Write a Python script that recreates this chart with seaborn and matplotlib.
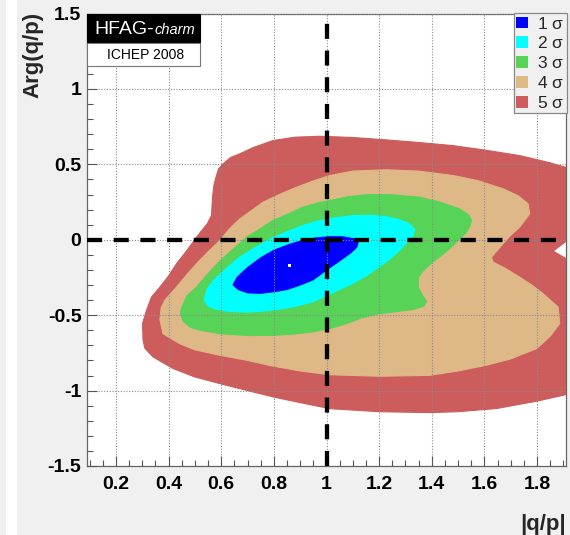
import numpy as np
import pandas as pd
import matplotlib
matplotlib.use("Agg")
import matplotlib.pyplot as plt
from matplotlib.patches import Patch, Rectangle
import seaborn as sns

# ---------------- data ----------------
sigma_labels = ["1", "2", "3", "4", "5"]
sigma_colors = ["#0000ff", "#00ffff", "#57d357", "#deb887", "#cd5c5c"]

s1_x = [0.645, 0.66, 0.70, 0.75, 0.80, 0.86, 0.91, 0.96, 1.01, 1.06, 1.10, 1.12,
        1.115, 1.09, 1.05, 1.00, 0.95, 0.90, 0.85, 0.80, 0.75, 0.70, 0.665]
s1_y = [-0.30, -0.25, -0.185, -0.12, -0.07, -0.03, -0.005, 0.012, 0.02, 0.02, 0.008, -0.02,
        -0.05, -0.09, -0.14, -0.20, -0.265, -0.30, -0.33, -0.345, -0.355, -0.352, -0.33]

s2_x = [0.535, 0.545, 0.57, 0.62, 0.67, 0.73, 0.80, 0.86, 0.91, 0.97, 1.03, 1.10, 1.164,
        1.22, 1.27, 1.31, 1.335, 1.33, 1.29, 1.24, 1.20, 1.15, 1.10, 1.05, 1.00, 0.95,
        0.886, 0.823, 0.75, 0.696, 0.63, 0.58, 0.55]
s2_y = [-0.40, -0.33, -0.27, -0.19, -0.115, -0.05, 0.017, 0.06, 0.095, 0.125, 0.145, 0.16, 0.162,
        0.155, 0.137, 0.11, 0.07, 0.03, -0.05, -0.13, -0.18, -0.24, -0.29, -0.33, -0.37, -0.41,
        -0.44, -0.46, -0.475, -0.48, -0.475, -0.46, -0.44]

s3_x = [0.45, 0.47, 0.506, 0.55, 0.595, 0.64, 0.696, 0.75, 0.797, 0.86, 0.911, 0.97, 1.013,
        1.08, 1.164, 1.25, 1.354, 1.43, 1.506, 1.54, 1.551, 1.545, 1.532, 1.481, 1.44, 1.395,
        1.365, 1.35, 1.348, 1.365, 1.38, 1.37, 1.33, 1.26, 1.20, 1.13, 1.076, 1.013, 0.95,
        0.88, 0.797, 0.70, 0.595, 0.52, 0.481, 0.455, 0.445]
s3_y = [-0.45, -0.37, -0.314, -0.225, -0.14, -0.07, 0.017, 0.075, 0.128, 0.175, 0.216, 0.245, 0.26,
        0.285, 0.30, 0.298, 0.282, 0.25, 0.205, 0.165, 0.128, 0.09, 0.05, -0.038, -0.10, -0.16,
        -0.21, -0.248, -0.314, -0.37, -0.41, -0.44, -0.462, -0.478, -0.49, -0.52, -0.556, -0.589, -0.61,
        -0.625, -0.634, -0.635, -0.623, -0.60, -0.579, -0.54, -0.49]

s4_x = [0.367, 0.372, 0.386, 0.43, 0.47, 0.506, 0.55, 0.595, 0.63, 0.671, 0.72, 0.759, 0.82,
        0.886, 0.95, 1.013, 1.10, 1.228, 1.35, 1.481, 1.58, 1.671, 1.73, 1.766, 1.772, 1.734,
        1.70, 1.671, 1.627, 1.633, 1.68, 1.734, 1.78, 1.823, 1.88, 1.886, 1.85, 1.798, 1.70,
        1.608, 1.50, 1.392, 1.20, 1.013, 0.90, 0.797, 0.70, 0.595, 0.50, 0.443, 0.379]
s4_y = [-0.53, -0.45, -0.40, -0.314, -0.23, -0.159, -0.08, -0.005, 0.07, 0.139, 0.20, 0.249, 0.30,
        0.348, 0.39, 0.426, 0.455, 0.464, 0.455, 0.426, 0.39, 0.338, 0.29, 0.238, 0.172, 0.083,
        0.03, -0.026, -0.115, -0.148, -0.19, -0.248, -0.30, -0.358, -0.446, -0.556, -0.64, -0.722, -0.79,
        -0.832, -0.87, -0.899, -0.905, -0.895, -0.87, -0.838, -0.80, -0.766, -0.73, -0.69, -0.623]

s5_x = [0.567, 0.572, 0.58, 0.59, 0.607, 0.635, 0.671, 0.72, 0.797, 0.88, 0.975, 1.10, 1.228,
        1.35, 1.481, 1.60, 1.734, 1.85, 1.95, 1.95, 1.915, 1.861, 1.915, 1.95, 1.95, 1.899,
        1.80, 1.646, 1.50, 1.392, 1.20, 1.013, 0.90, 0.797, 0.70, 0.595, 0.50, 0.417, 0.341,
        0.31, 0.303, 0.301, 0.316, 0.335, 0.367, 0.40, 0.43, 0.47, 0.506, 0.53, 0.547, 0.563]
s5_y = [0.28, 0.36, 0.415, 0.47, 0.503, 0.545, 0.57, 0.61, 0.658, 0.68, 0.686, 0.678, 0.662,
        0.645, 0.624, 0.595, 0.558, 0.51, 0.46, -0.005, -0.005, -0.075, -0.13, -0.13, -1.01, -1.031,
        -1.07, -1.119, -1.14, -1.146, -1.14, -1.12, -1.08, -1.042, -1.0, -0.954, -0.91, -0.854, -0.777,
        -0.72, -0.667, -0.556, -0.468, -0.38, -0.314, -0.24, -0.159, -0.07, 0.017, 0.07, 0.106, 0.161]

best_x = [0.858]
best_y = [-0.170]

x_ticks = [0.2, 0.4, 0.6, 0.8, 1.0, 1.2, 1.4, 1.6, 1.8]
x_tick_labels = ["0.2", "0.4", "0.6", "0.8", "1", "1.2", "1.4", "1.6", "1.8"]
y_ticks = [-1.5, -1.0, -0.5, 0.0, 0.5, 1.0, 1.5]
y_tick_labels = ["-1.5", "-1", "-0.5", "0", "0.5", "1", "1.5"]

contours = [(s5_x, s5_y), (s4_x, s4_y), (s3_x, s3_y), (s2_x, s2_y), (s1_x, s1_y)]
contour_colors = sigma_colors[::-1]

# ---------------- style ----------------
sns.set_theme(style="white")
plt.rcParams["font.family"] = ["Liberation Sans", "DejaVu Sans"]
plt.rcParams["mathtext.fontset"] = "custom"
plt.rcParams["mathtext.rm"] = "Liberation Sans"
plt.rcParams["mathtext.it"] = "Liberation Sans:italic"

W, H = 570, 535
BG = "#f0f0f0"
fig = plt.figure(figsize=(W / 100, H / 100), dpi=100, facecolor=BG)

def fx(px):
    return px / W

def fy(py):
    return 1 - py / H

# white strip at the far left of the canvas
fig.add_artist(Rectangle((fx(6), 0), fx(11), 1, transform=fig.transFigure,
                         facecolor="white", edgecolor="none", zorder=0))

L, R, T, B = 87, 566, 13.5, 466
ax = fig.add_axes([fx(L), fy(B), fx(R) - fx(L), fy(T) - fy(B)])
ax.set_facecolor("white")

for (cx, cy), col in zip(contours, contour_colors):
    ax.fill(cx, cy, facecolor=col, edgecolor=col, lw=0.8, joinstyle="round",
            antialiased=True, zorder=1)

sns.scatterplot(x=best_x, y=best_y, ax=ax, color="white", s=5, marker="s",
                edgecolor="none", zorder=6, legend=False)

ax.axvline(1.0, color="black", lw=3.1, ls=(0, (3.5, 2.7)), zorder=5)
ax.axhline(0.0, color="black", lw=3.1, ls=(0, (3.5, 2.7)), zorder=5)

ax.set_xlim(0.09, 1.91)
ax.set_ylim(-1.5, 1.5)
ax.set_xticks(x_ticks)
ax.set_xticklabels(x_tick_labels)
ax.set_yticks(y_ticks)
ax.set_yticklabels(y_tick_labels)
ax.set_xticks(np.arange(0.1, 1.91, 0.05), minor=True)
ax.set_yticks(np.arange(-1.5, 1.51, 0.1), minor=True)
ax.set_axisbelow(False)
ax.grid(True, which="major", color="#8a8a8a", lw=0.8, ls=(0, (1, 1.5)), zorder=2.5)
ax.tick_params(axis="both", which="both", direction="in", bottom=True, left=True,
               top=False, right=False, colors="#555555", labelcolor="black")
ax.tick_params(axis="both", which="major", length=7, width=0.8, labelsize=14)
ax.tick_params(axis="both", which="minor", length=4, width=0.8)
ax.tick_params(axis="x", which="major", pad=7)
ax.tick_params(axis="y", which="major", pad=4)
for lab in ax.get_xticklabels() + ax.get_yticklabels():
    lab.set_fontweight("bold")
for sp in ax.spines.values():
    sp.set_color("#666666")
    sp.set_linewidth(0.9)
ax.set_xlabel("")
ax.set_ylabel("")

fig.text(fx(33), fy(12), "Arg(q/p)", rotation=90, ha="center", va="top",
         fontsize=16, fontweight="bold")
fig.text(fx(566), fy(530), "|q/p|", ha="right", va="baseline",
         fontsize=16, fontweight="bold")

# HFAG label box
fig.add_artist(Rectangle((fx(87), fy(43.3)), fx(113), fy(14) - fy(43.3), transform=fig.transFigure,
                         facecolor="black", edgecolor="black", lw=0.8, zorder=10))
fig.add_artist(Rectangle((fx(87), fy(66)), fx(113), fy(43.3) - fy(66), transform=fig.transFigure,
                         facecolor="white", edgecolor="#777777", lw=0.8, zorder=10))
t_hfag = fig.text(fx(94), fy(29), "HFAG-", color="white", ha="left", va="center",
                  fontsize=14, zorder=11)
fig.canvas.draw()
bb = t_hfag.get_window_extent(renderer=fig.canvas.get_renderer())
charm_x = bb.x1 / fig.bbox.width + fx(1)
fig.text(charm_x, fy(30.5), "charm", color="white", ha="left", va="center", fontsize=10.5,
         style="italic", zorder=11)
fig.text(fx(145.5), fy(55), "ICHEP 2008", color="black", ha="center", va="center",
         fontsize=10, zorder=11)

# legend
handles = [Patch(facecolor=c, edgecolor="none") for c in sigma_colors]
labels = [r"$\mathit{%s}$ σ" % s for s in sigma_labels]
leg = ax.legend(handles, labels, loc="upper right", bbox_to_anchor=(fx(567), fy(13)),
                bbox_transform=fig.transFigure, fontsize=12.5, frameon=True, fancybox=False,
                facecolor=BG, edgecolor="#888888", framealpha=1, borderpad=0.15,
                labelspacing=0.22, handlelength=0.66, handleheight=0.66, handletextpad=0.55,
                borderaxespad=0)
leg.get_frame().set_linewidth(0.9)
leg.set_zorder(12)

fig.savefig("out.png", dpi=100, facecolor=BG)
